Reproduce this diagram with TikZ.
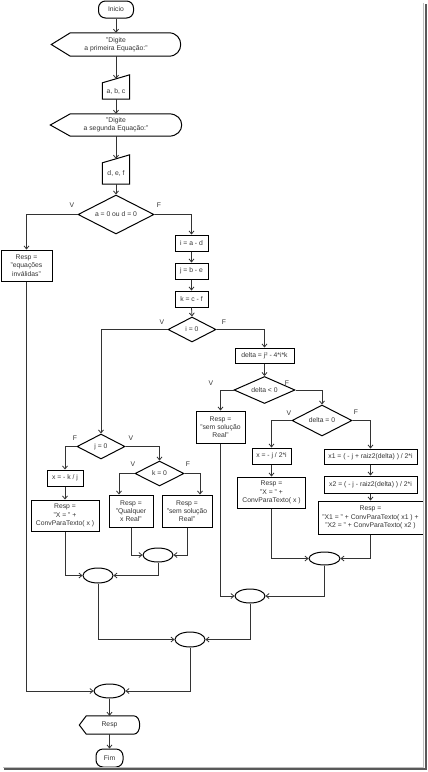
\documentclass[tikz,border=0pt]{standalone}
\usepackage{fontspec}
\setmainfont{Liberation Sans}
\usetikzlibrary{positioning}
\usetikzlibrary{shapes.geometric}
\usetikzlibrary{arrows.meta}

\newcommand{\dispshape}[3]{%
  \draw[outl] (#1.west) -- ([xshift=#2]#1.north west) -- ([xshift=-#3]#1.north east)
    .. controls ([xshift=#3/3]#1.north east) and ([xshift=#3/3]#1.south east) .. ([xshift=-#3]#1.south east)
    -- ([xshift=#2]#1.south west) -- cycle;}
\newcommand{\inshape}[2]{%
  \draw[outl] (#1.north west) -- ([yshift=#2]#1.north east) -- (#1.south east) -- (#1.south west) -- cycle;}

\begin{document}
\begin{tikzpicture}[x=1pt, y=-1pt, node distance=11pt,
  font=\fontsize{6.8}{8.2}\selectfont, text=black!80,
  >={Straight Barb[length=3pt,width=5pt]},
  outl/.style={draw=black, line width=1pt},
  box/.style 2 args={draw, line width=1pt, rectangle, inner sep=0.5pt, align=center, minimum width=#1, minimum height=#2},
  term/.style 2 args={draw, line width=1pt, rectangle, rounded corners=7pt, inner sep=0pt, minimum width=#1, minimum height=#2},
  dec/.style 2 args={draw, line width=1pt, diamond, aspect=2, inner sep=0pt, minimum width=#1, minimum height=#2},
  joint/.style 2 args={draw, line width=1pt, ellipse, inner sep=0pt, minimum width=#1, minimum height=#2},
  hold/.style 2 args={inner sep=0pt, align=center, minimum width=#1, minimum height=#2},
  lbl/.style={inner sep=0pt},
  arr/.style={->, line width=0.8pt, draw=black!80}]
\useasboundingbox (0,0) rectangle (428,772);
% leitura dos dados
\node[term={35pt}{17pt}] (inicio) at (116,9.5) {Inicio};
\node[hold={129pt}{23pt}] (d1) at (116,44.5) {"Digite\\a primeira Equação:"};
\dispshape{d1}{19pt}{12pt}
\node[hold={27pt}{16pt}] (abc) at (116,91) {a, b, c};
\inshape{abc}{8pt}
\node[hold={131pt}{22pt}] (d2) at (116,125) {"Digite\\a segunda Equação:"};
\dispshape{d2}{20pt}{13pt}
\node[hold={27pt}{21pt}] (def) at (116,173.5) {d, e, f};
\inshape{def}{8pt}
\draw[arr] (inicio.south) -- (d1.north);
\draw[arr] (d1.south) -- ([yshift=4pt]abc.north);
\draw[arr] (abc.south) -- (d2.north);
\draw[arr] (d2.south) -- ([yshift=4pt]def.north);
\node[dec={76pt}{39pt}] (aou) at (116,214.5) {a = 0 ou d = 0};
\draw[arr] (def.south) -- (aou.north);
\node[lbl] (v1) at (72,205) {V};
\node[lbl] (f1) at (159,205) {F};
\node[box={51pt}{31pt}] (inval) at (26.5,265.5) {Resp =\\"equações\\inválidas"};
\draw[arr] (aou.west) -| (inval.north);
\node[box={33pt}{16pt}] (ia) at (191.5,243) {i = a - d};
\node[box={33pt}{16pt}, below=of ia] (jb) {j = b - e};
\node[box={33pt}{16pt}, below=of jb] (kc) {k = c - f};
\draw[arr] (aou.east) -| (ia.north);
\draw[arr] (ia.south) -- (jb.north);
\draw[arr] (jb.south) -- (kc.north);
\node[dec={48pt}{25pt}] (izero) at (192,329.5) {i = 0};
\draw[arr] (kc.south) -- (izero.north);
\node[lbl] (v2) at (162,322) {V};
\node[lbl] (f2) at (224,322) {F};
% ramo F de i = 0
\node[box={59pt}{15pt}] (delta) at (264.5,355.5) {delta = j² - 4*i*k};
\draw[arr] (izero.east) -| (delta.north);
\node[dec={61pt}{27pt}] (dneg) at (264.5,390) {delta < 0};
\draw[arr] (delta.south) -- (dneg.north);
\node[lbl] (v3) at (211,383) {V};
\node[lbl] (f3) at (287,383) {F};
\node[box={49pt}{32pt}] (semA) at (220.5,427) {Resp =\\"sem solução\\Real"};
\draw[arr] (dneg.west) -| (semA.north);
\node[dec={60pt}{31pt}] (dzero) at (322,420.5) {delta = 0};
\draw[arr] (dneg.east) -| (dzero.north);
\node[lbl] (v4) at (289,413) {V};
\node[lbl] (f4) at (356,412) {F};
\node[box={39pt}{16pt}] (xunico) at (271.5,456) {x = - j / 2*i};
\node[box={68pt}{31pt}, below=12pt of xunico] (respA) {Resp =\\"X = " +\\ConvParaTexto( x )};
\draw[arr] (dzero.west) -| (xunico.north);
\draw[arr] (xunico.south) -- (respA.north);
\node[box={93pt}{15pt}] (xum) at (370.5,456.5) {x1 = ( - j + raiz2(delta) ) / 2*i};
\node[box={93pt}{17pt}, below=of xum] (xdois) {x2 = ( - j - raiz2(delta) ) / 2*i};
\node[box={105pt}{33pt}, below=7pt of xdois] (respB) {Resp =\\"X1 = " + ConvParaTexto( x1 ) +\\"X2 = " + ConvParaTexto( x2 )};
\draw[arr] (dzero.east) -| (xum.north);
\draw[arr] (xum.south) -- (xdois.north);
\draw[arr] (xdois.south) -- (respB.north);
\node[joint={31pt}{13pt}] (jA) at (324.5,558.5) {};
\draw[arr] (respA.south) |- (jA.west);
\draw[arr] (respB.south) |- (jA.east);
\node[joint={30pt}{14pt}] (jB) at (250,596) {};
\draw[arr] (semA.south) |- (jB.west);
\draw[arr] (jA.south) |- (jB.east);
% ramo V de i = 0
\node[dec={48pt}{25pt}] (jzero) at (101,446.5) {j = 0};
\draw[arr] (izero.west) -| (jzero.north);
\node[lbl] (f5) at (75,438) {F};
\node[lbl] (v5) at (131,438) {V};
\node[box={36pt}{16pt}] (xlin) at (65,478) {x = - k / j};
\node[box={68pt}{31pt}, below=13pt of xlin] (respC) {Resp =\\"X = " +\\ConvParaTexto( x )};
\draw[arr] (jzero.west) -| (xlin.north);
\draw[arr] (xlin.south) -- (respC.north);
\node[dec={49pt}{25pt}] (kzero) at (159.5,473.5) {k = 0};
\draw[arr] (jzero.east) -| (kzero.north);
\node[lbl] (v6) at (133,464) {V};
\node[lbl] (f6) at (188,464) {F};
\node[box={44pt}{32pt}] (qualq) at (131,511) {Resp =\\"Qualquer\\x Real"};
\node[box={50pt}{32pt}] (semB) at (187,511) {Resp =\\"sem solução\\Real"};
\draw[arr] (kzero.west) -| ([xshift=-12pt]qualq.north);
\draw[arr] (kzero.east) -| ([xshift=13pt]semB.north);
\node[joint={30pt}{14pt}] (jC) at (158,555) {};
\draw[arr] (qualq.south) |- (jC.west);
\draw[arr] (semB.south) |- (jC.east);
\node[joint={30pt}{15pt}] (jD) at (98,575.5) {};
\draw[arr] (respC.south) |- (jD.west);
\draw[arr] (jC.south) |- (jD.east);
% juncoes finais
\node[joint={30pt}{15pt}] (jE) at (190,639.5) {};
\draw[arr] (jD.south) |- (jE.west);
\draw[arr] (jB.south) |- (jE.east);
\node[joint={31pt}{14pt}] (jF) at (109.5,691) {};
\draw[arr] (inval.south) |- (jF.west);
\draw[arr] (jE.south) |- (jF.east);
\node[hold={60pt}{18pt}] (saida) at (109.5,725) {Resp};
\dispshape{saida}{7pt}{6pt}
\node[term={27pt}{18pt}] (fim) at (109.5,758) {Fim};
\draw[arr] (jF.south) -- (saida.north);
\draw[arr] (saida.south) -- (fim.north);
% moldura
\draw[line width=0.6pt, black!25] (423.5,3) -- (423.5,767) -- (3,767);
\draw[line width=2.5pt, black!65] (426,4) -- (426,769) -- (4,769);
\end{tikzpicture}
\end{document}
